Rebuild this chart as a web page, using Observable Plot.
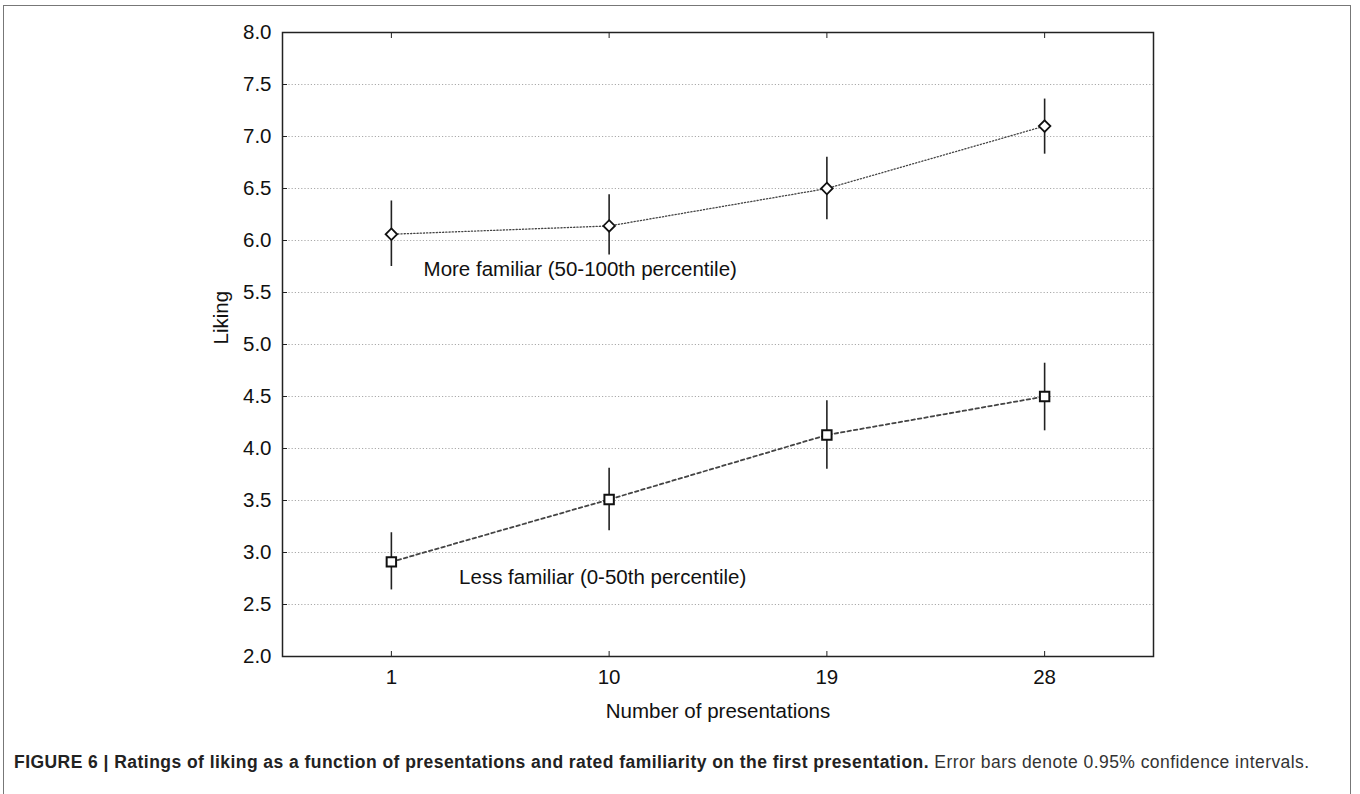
<!DOCTYPE html>
<html>
<head>
<meta charset="utf-8">
<script src="https://cdn.jsdelivr.net/npm/d3@7"></script>
<script src="https://cdn.jsdelivr.net/npm/@observablehq/plot@0.6"></script>
<style>
  html, body { margin: 0; padding: 0; background: #fff; }
  #wrap { position: relative; width: 1360px; height: 794px; overflow: hidden; }
  #box { position: absolute; left: 3px; top: 5px; width: 1348px; height: 800px; border: 1.5px solid #777; box-sizing: border-box; }
  #chart { position: absolute; left: 0; top: 0; }
  #caption { position: absolute; left: 14px; top: 752px; font-family: "Liberation Sans Narrow", "Liberation Sans", Arial, sans-serif; font-size: 17.5px; letter-spacing: 0.45px; color: #333; white-space: nowrap; }
  #caption b { color: #222; }
</style>
</head>
<body>
<div id="wrap">
  <div id="box"></div>
  <div id="chart"></div>
  <div id="caption"><b>FIGURE 6 | Ratings of liking as a function of presentations and rated familiarity on the first presentation.</b> Error bars denote 0.95% confidence intervals.</div>
</div>
<script>
const presentations = [1, 10, 19, 28];
const xTicks = [1, 10, 19, 28];
const yTicks = [2.0, 2.5, 3.0, 3.5, 4.0, 4.5, 5.0, 5.5, 6.0, 6.5, 7.0, 7.5, 8.0];
const gridTicks = [2.5, 3.0, 3.5, 4.0, 4.5, 5.0, 5.5, 6.0, 6.5, 7.0, 7.5];

const moreMean  = [6.06, 6.14, 6.50, 7.10];
const moreLow   = [5.75, 5.86, 6.20, 6.83];
const moreHigh  = [6.38, 6.44, 6.80, 7.36];

const lessMean  = [2.91, 3.51, 4.13, 4.50];
const lessLow   = [2.64, 3.21, 3.80, 4.17];
const lessHigh  = [3.19, 3.81, 4.46, 4.82];

const moreLabel = "More familiar (50-100th percentile)";
const lessLabel = "Less familiar (0-50th percentile)";
const labelAnchors = [{x: 2.33, y: 5.72, text: moreLabel}, {x: 3.8, y: 2.76, text: lessLabel}];

const more = presentations.map((p, i) => ({x: p, y: moreMean[i], lo: moreLow[i], hi: moreHigh[i]}));
const less = presentations.map((p, i) => ({x: p, y: lessMean[i], lo: lessLow[i], hi: lessHigh[i]}));

const font = "'Liberation Sans', Arial, sans-serif";

const chart = Plot.plot({
  width: 1360,
  height: 740,
  marginLeft: 282,
  marginRight: 207,
  marginTop: 32,
  marginBottom: 84,
  style: {fontFamily: font, fontSize: "20px", color: "#111", background: "transparent"},
  x: {domain: [-3.5, 32.5], label: null},
  y: {domain: [2, 8], label: null},
  marks: [
    Plot.ruleY(gridTicks, {stroke: "#aaa", strokeDasharray: "1.2,2", strokeWidth: 1}),
    Plot.frame({stroke: "#222", strokeWidth: 1.5}),
    Plot.axisY(yTicks, {tickSize: 0, tickPadding: 11, tickFormat: d3.format(".1f"), fontSize: 20.5, label: null}),
    Plot.axisY(yTicks.slice(1, -1), {tickSize: 5, dx: 5, text: null, stroke: "#222", label: null}),
    Plot.axisX(xTicks, {anchor: "bottom", tickSize: 0, tickPadding: 13, fontSize: 20.5, label: null}),
    Plot.axisX(xTicks, {anchor: "bottom", tickSize: 5, dy: -5, text: null, stroke: "#222", label: null}),
    Plot.axisX(xTicks, {anchor: "top", tickSize: 5, dy: 5, text: null, stroke: "#222", label: null}),
    Plot.text(["Liking"], {frameAnchor: "left", dx: -61, rotate: -90, fontSize: 20.5, fill: "#111"}),
    Plot.text(["Number of presentations"], {frameAnchor: "bottom", dy: 61, fontSize: 20.5, fill: "#111"}),
    Plot.line(more, {x: "x", y: "y", stroke: "#444", strokeWidth: 1.3, strokeDasharray: "1.2,2"}),
    Plot.line(less, {x: "x", y: "y", stroke: "#444", strokeWidth: 1.8, strokeDasharray: "3.5,3"}),
    Plot.ruleX(more, {x: "x", y1: "lo", y2: "hi", stroke: "#222", strokeWidth: 1.6}),
    Plot.ruleX(less, {x: "x", y1: "lo", y2: "hi", stroke: "#222", strokeWidth: 1.6}),
    Plot.dot(more, {x: "x", y: "y", symbol: "diamond2", r: 5.2, fill: "white", stroke: "#111", strokeWidth: 1.8}),
    Plot.dot(less, {x: "x", y: "y", symbol: "square2", r: 6, fill: "white", stroke: "#111", strokeWidth: 2}),
    Plot.text(labelAnchors, {x: "x", y: "y", text: "text", textAnchor: "start", fontSize: 20.5, fill: "#111"})
  ]
});
document.getElementById("chart").appendChild(chart);
</script>
</body>
</html>
